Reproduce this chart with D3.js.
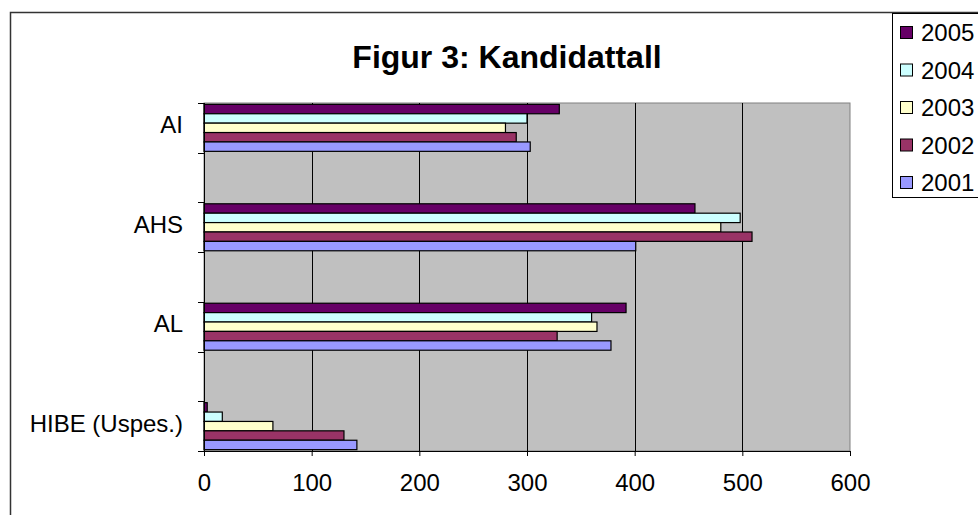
<!DOCTYPE html>
<html>
<head>
<meta charset="utf-8">
<script src="https://cdn.jsdelivr.net/npm/d3@7"></script>
<style>
  body { margin: 0; background: #fff; }
  text { font-family: "Liberation Sans", Arial, sans-serif; }
</style>
</head>
<body>
<div id="canvas"></div>
<script>
// rows of the sheet, blank rows between groups
const categories = ["AI", "", "AHS", "", "AL", "", "HIBE (Uspes.)"];
const years = ["2005", "2004", "2003", "2002", "2001"];
const v2005 = [330, null, 456, null, 392, null, 3];
const v2004 = [300, null, 498, null, 360, null, 17];
const v2003 = [280, null, 480, null, 365, null, 64];
const v2002 = [290, null, 509, null, 328, null, 130];
const v2001 = [303, null, 401, null, 378, null, 142];
const xTicks = [0, 100, 200, 300, 400, 500, 600];

const series = [v2005, v2004, v2003, v2002, v2001];
const colors = ["#660066", "#CCFFFF", "#FFFFCC", "#993366", "#9999FF"];

const width = 978;
const height = 515;
const margin = { top: 103, left: 204, bottom: 64, right: 128 };
const iwidth = 850 - margin.left;
const iheight = 451 - margin.top;

const svg = d3.select("#canvas").append("svg")
  .attr("width", width)
  .attr("height", height);

// chart frame
svg.append("rect")
  .attr("x", 10.5).attr("y", 12.5)
  .attr("width", 1000).attr("height", 600)
  .attr("fill", "#fff")
  .attr("stroke", "#333")
  .attr("stroke-width", 1.5);

svg.append("text")
  .attr("x", 507).attr("y", 68)
  .attr("text-anchor", "middle")
  .attr("font-size", 32)
  .attr("font-weight", "bold")
  .text("Figur 3: Kandidattall");

const g = svg.append("g")
  .attr("transform", `translate(${margin.left},${margin.top})`);

const x = d3.scaleLinear().domain([0, 600]).range([0, iwidth]);
const y = d3.scaleBand()
  .domain(d3.range(categories.length))
  .range([0, iheight])
  .padding(0);
const yInner = d3.scaleBand()
  .domain(years)
  .range([0, y.bandwidth()])
  .paddingOuter(0.145)
  .paddingInner(0);

g.append("rect")
  .attr("width", iwidth).attr("height", iheight)
  .attr("fill", "#C0C0C0")
  .attr("stroke", "#808080");

g.selectAll("line.grid")
  .data(xTicks.slice(1, -1))
  .enter()
  .append("line")
  .attr("class", "grid")
  .attr("x1", (d) => Math.round(x(d)) + 0.5)
  .attr("x2", (d) => Math.round(x(d)) + 0.5)
  .attr("y1", 0).attr("y2", iheight)
  .attr("stroke", "#000");

years.forEach((yr, i) => {
  g.selectAll(".bar" + yr)
    .data(series[i].map((v, k) => ({ k, v })).filter((d) => d.v != null))
    .enter()
    .append("rect")
    .attr("x", x(0))
    .attr("y", (d) => y(d.k) + yInner(yr))
    .attr("width", (d) => x(d.v))
    .attr("height", yInner.bandwidth())
    .attr("fill", colors[i])
    .attr("stroke", "#000")
    .attr("stroke-width", 1.2);
});

const xAxis = g.append("g")
  .attr("transform", `translate(0,${iheight})`)
  .call(d3.axisBottom(x).tickValues(xTicks).tickSize(5).tickSizeOuter(0).tickPadding(18));
xAxis.selectAll("text").attr("font-size", 24).attr("fill", "#000")
  .style("font-family", "Liberation Sans, Arial, sans-serif");
xAxis.select(".domain").attr("stroke", "#000");

// category axis: ticks at band edges
const yAxis = g.append("g");
yAxis.append("line")
  .attr("x1", 0.5).attr("x2", 0.5).attr("y1", 0).attr("y2", iheight + 5)
  .attr("stroke", "#000");
yAxis.selectAll("line.tick")
  .data(d3.range(categories.length + 1))
  .enter()
  .append("line")
  .attr("class", "tick")
  .attr("x1", -6).attr("x2", 0)
  .attr("y1", (d) => Math.round(d * y.step()) + 0.5)
  .attr("y2", (d) => Math.round(d * y.step()) + 0.5)
  .attr("stroke", "#000");
yAxis.selectAll("text")
  .data(categories.map((c, k) => ({ c, k })).filter((d) => d.c))
  .enter()
  .append("text")
  .attr("x", -21)
  .attr("y", (d) => y(d.k) + y.bandwidth() / 2 - 3)
  .attr("dy", "0.35em")
  .attr("text-anchor", "end")
  .attr("font-size", 24)
  .text((d) => d.c);

// legend
const legend = svg.append("g");
legend.append("rect")
  .attr("x", 892.5).attr("y", 13.5)
  .attr("width", 100).attr("height", 184)
  .attr("fill", "#fff")
  .attr("stroke", "#000");
years.forEach((yr, i) => {
  const ly = 33 + i * 37.5;
  legend.append("rect")
    .attr("x", 900.5).attr("y", ly - 6.5)
    .attr("width", 12).attr("height", 12)
    .attr("fill", colors[i])
    .attr("stroke", "#000");
  legend.append("text")
    .attr("x", 921).attr("y", ly)
    .attr("dy", "0.35em")
    .attr("font-size", 24)
    .text(yr);
});
</script>
</body>
</html>
